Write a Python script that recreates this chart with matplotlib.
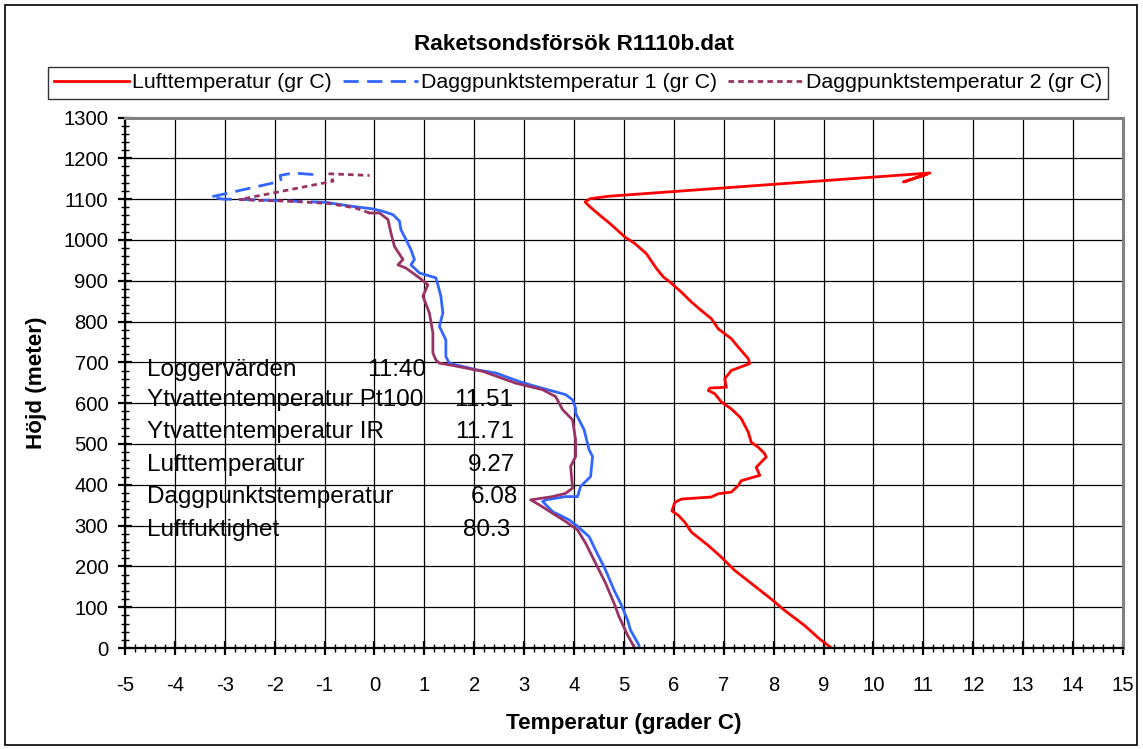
import numpy as np
import matplotlib
matplotlib.use("Agg")
import matplotlib.pyplot as plt
from matplotlib.patches import Rectangle

plt.rcParams['font.family'] = ['Liberation Sans', 'DejaVu Sans']
plt.rcParams['lines.scale_dashes'] = False
plt.rcParams['axes.unicode_minus'] = False

# Lufttemperatur (gr C), bottom up
luft_t = [9.16, 8.92, 8.62, 8.22, 7.95, 7.69, 7.22, 6.92, 6.69, 6.35, 6.22, 6.09,
          5.96, 6.02, 6.15, 6.75, 6.89, 7.15, 7.29, 7.35, 7.72, 7.65, 7.85, 7.82,
          7.69, 7.55, 7.49, 7.35, 7.29, 7.15, 6.95, 6.82, 6.69, 6.72, 7.05, 7.02,
          7.15, 7.52, 7.49, 7.32, 7.15, 6.89, 6.75, 6.55, 6.35, 6.15, 5.92, 5.79,
          5.65, 5.45, 5.22, 5.02, 4.72, 4.52, 4.32, 4.22, 4.32, 4.69, 11.13, 10.6, 11.05]
luft_h = [0, 22, 55, 92, 120, 145, 190, 226, 251, 284, 308, 325,
          336, 357, 365, 370, 378, 382, 398, 410, 423, 443, 468, 476,
          492, 504, 529, 562, 570, 586, 603, 623, 631, 637, 639, 660,
          680, 697, 709, 733, 758, 782, 807, 827, 848, 872, 897, 909,
          930, 966, 991, 1007, 1040, 1060, 1081, 1093, 1101, 1107, 1164, 1142, 1160]

# Daggpunktstemperatur 1 (gr C)
dagg1_t = [5.3, 5.3, 5.13, 5.07, 4.93, 4.8, 4.63, 4.43, 4.3, 4.07, 3.9, 3.57,
           3.37, 3.43, 3.83, 4.07, 4.13, 4.33, 4.37, 4.3, 4.2, 4.03, 4.03, 3.97,
           3.83, 3.23, 2.9, 2.43, 2.03, 1.5, 1.43, 1.43, 1.3, 1.37, 1.33, 1.27,
           1.23, 0.9, 0.73, 0.8, 0.73, 0.63, 0.53, 0.5, 0.37, 0.17, -0.03, -0.43,
           -0.97, -2.57, -3.03, -3.29, -1.87, -1.89, -1.63, -1.2]
dagg1_h = [0, 7, 44, 69, 110, 142, 191, 240, 273, 298, 314, 334,
           359, 363, 371, 371, 396, 420, 469, 486, 535, 576, 588, 608,
           621, 641, 653, 674, 682, 698, 714, 755, 788, 821, 862, 890,
           907, 919, 939, 952, 976, 1001, 1025, 1046, 1062, 1070, 1076, 1082,
           1092, 1099, 1100, 1105, 1144, 1158, 1164, 1160]

# Daggpunktstemperatur 2 (gr C)
dagg2_t = [5.2, 5.2, 5.07, 4.9, 4.8, 4.63, 4.43, 4.23, 4.07, 3.83, 3.57, 3.3,
           3.13, 3.57, 3.83, 3.97, 3.93, 4.03, 4.03, 3.97, 3.77, 3.63, 3.37, 2.83,
           2.17, 1.5, 1.3, 1.23, 1.17, 1.17, 1.1, 0.97, 1.07, 0.9, 0.63, 0.47,
           0.57, 0.4, 0.33, 0.27, 0.1, -0.1, -0.37, -0.9, -1.7, -2.37, -2.7,
           -0.83, -0.9, -0.1]
dagg2_h = [0, 3, 32, 77, 110, 159, 208, 257, 289, 310, 330, 351,
           363, 371, 379, 392, 445, 469, 510, 559, 584, 616, 633, 649,
           678, 694, 698, 706, 723, 772, 821, 862, 890, 907, 931, 939,
           952, 984, 1017, 1050, 1066, 1066, 1078, 1089, 1095, 1097, 1099,
           1144, 1162, 1158]

info_labels = ["Loggervärden", "Ytvattentemperatur Pt100", "Ytvattentemperatur IR",
               "Lufttemperatur", "Daggpunktstemperatur", "Luftfuktighet"]
info_values = ["11:40", "11.51", "11.71", "9.27", "6.08", "80.3"]

W, H = 1143, 749
fig = plt.figure(figsize=(W / 100, H / 100), dpi=100)
ax = fig.add_axes([125 / W, 1 - 648 / H, 998 / W, 530.5 / H])

red = '#FF0000'
blue = '#3366FF'
purple = '#993366'
lw = 2.0
blue_dash = (11, 6)
purple_dash = (4, 3)

# dense part drawn solid (as the spreadsheet does with tiny segments), sparse tail dashed
ax.plot(luft_t, luft_h, color=red, lw=lw)
n1 = 48
ax.plot(dagg1_t[:n1 + 1], dagg1_h[:n1 + 1], color=blue, lw=lw)
ax.plot(dagg1_t[n1:], dagg1_h[n1:], color=blue, lw=lw, dashes=blue_dash)
n2 = 41
ax.plot(dagg2_t[:n2 + 1], dagg2_h[:n2 + 1], color=purple, lw=lw)
ax.plot(dagg2_t[n2:], dagg2_h[n2:], color=purple, lw=lw, dashes=purple_dash)

ax.set_xlim(-5, 15)
ax.set_ylim(0, 1300)
ax.set_xticks(np.arange(-5, 16, 1))
ax.set_yticks(np.arange(0, 1301, 100))
ax.set_xticks(np.arange(-5, 15.01, 0.2), minor=True)
ax.set_yticks(np.arange(0, 1301, 20), minor=True)
ax.grid(True, which='major', color='black', lw=0.9)
ax.tick_params(which='major', direction='inout', length=10, width=1.6, labelsize=14.6)
ax.tick_params(which='minor', direction='inout', length=6, width=1.0)
ax.tick_params(axis='y', pad=7)
ax.tick_params(axis='x', pad=15)
for s in ['top', 'right']:
    ax.spines[s].set_color('#808080')
    ax.spines[s].set_linewidth(2.2)
for s in ['left', 'bottom']:
    ax.spines[s].set_color('black')
    ax.spines[s].set_linewidth(1.6)
ax.set_axisbelow(True)

ax.set_xlabel('Temperatur (grader C)', fontsize=16.2, fontweight='bold', labelpad=13)
ax.set_ylabel('Höjd (meter)', fontsize=16.2, fontweight='bold', labelpad=12)
fig.suptitle('Raketsondsförsök R1110b.dat', x=574 / W, y=1 - 44 / H, va='center',
             fontsize=16.2, fontweight='bold')

handles = [
    plt.Line2D([], [], color=red, lw=lw),
    plt.Line2D([], [], color=blue, lw=lw, dashes=blue_dash),
    plt.Line2D([], [], color=purple, lw=lw, dashes=purple_dash),
]
labels = ['Lufttemperatur (gr C)', 'Daggpunktstemperatur 1 (gr C)', 'Daggpunktstemperatur 2 (gr C)']
leg = fig.legend(handles, labels, loc='center', bbox_to_anchor=(578 / W, 1 - 83 / H), ncol=3,
                 fontsize=15.4, frameon=True, fancybox=False, edgecolor='black',
                 handlelength=3.5, handletextpad=0.15, columnspacing=0.5, borderpad=0.3,
                 borderaxespad=0)
leg.get_frame().set_linewidth(1.0)

rows_y = [370, 400, 432, 465, 497, 530]
vals_x = [426, 513, 514, 515, 518, 510]
for lab, val, py, vx in zip(info_labels, info_values, rows_y, vals_x):
    fig.text(147 / W, 1 - py / H, lab, fontsize=17.5, va='center', ha='left')
    fig.text(vx / W, 1 - py / H, val, fontsize=17.5, va='center', ha='right')

fig.patches.append(Rectangle((5 / W, 4 / H), 1 - 11 / W, 1 - 9 / H, transform=fig.transFigure,
                             fill=False, edgecolor='black', lw=1.2))

fig.savefig('out.png', dpi=100)
